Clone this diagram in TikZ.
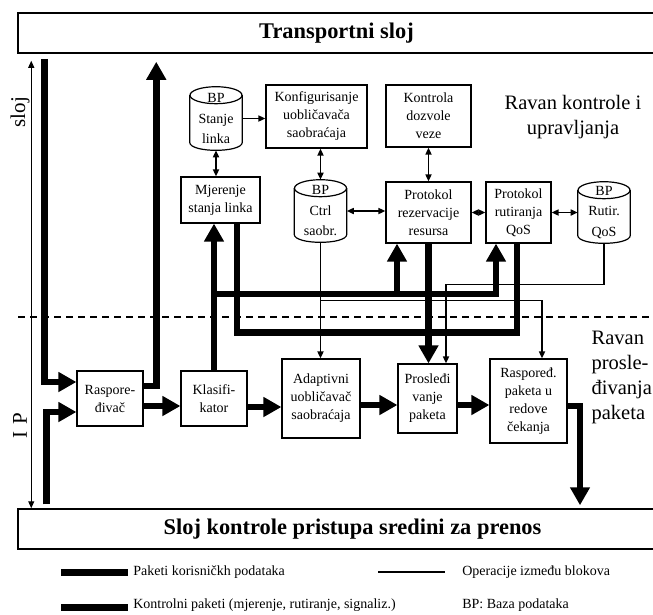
\documentclass[tikz,border=0pt]{standalone}
\usepackage{fontspec}
\setmainfont{Liberation Serif}
\usepackage{tikz}
\usetikzlibrary{positioning}
\usetikzlibrary{calc}
\usetikzlibrary{arrows.meta}

\begin{document}
\begin{tikzpicture}[x=1pt, y=-1pt, on grid, semithick,
  blok/.style={draw, line width=1.2pt, align=center, inner sep=1pt, font=\fontsize{14}{18}\selectfont},
  baza/.style={align=center, inner sep=0pt, minimum width=52pt, minimum height=60pt, font=\fontsize{14}{20.5}\selectfont},
  sloj/.style={draw, line width=1.5pt, minimum height=40pt, inner sep=0pt, font=\bfseries\fontsize{22.4}{26}\selectfont},
  ravan/.style={font=\fontsize{20.5}{25}\selectfont},
  oznaka/.style={rotate=90, font=\fontsize{21}{25}\selectfont},
  legenda/.style={anchor=west, inner sep=0pt, font=\fontsize{14}{17}\selectfont},
  debela/.style={line width=6.5pt},
  tanka/.style={line width=1.6pt},
  velika/.style={-{Triangle[length=18pt, width=19pt]}},
  mala/.style={-{Triangle[length=7pt, width=6pt]}},
  dvostruka/.style={{Triangle[length=7pt, width=6pt]}-{Triangle[length=7pt, width=6pt]}}]
    \clip (0,0) rectangle (653,614);
    \node[sloj, minimum width=637pt] (TS) at (336.5,33) {Transportni sloj};
    \node[sloj, minimum width=669pt] (MAC) at (352.5,529) {Sloj kontrole pristupa sredini za prenos};

    \node[blok, minimum width=66pt, minimum height=55pt] (RD) at (110,398.5) {Raspore-\\đivač};
    \node[blok, minimum width=66pt, minimum height=55pt] (KL) [right=104pt of RD] {Klasifi-\\kator};
    \node[blok, minimum width=78pt, minimum height=79pt] (AU) [right=107pt of KL] {Adaptivni\\uobličavač\\saobraćaja};
    \node[blok, minimum width=59pt, minimum height=69pt] (PP) [right=106.5pt of AU] {Prosleđi\\vanje\\paketa};
    \node[blok, minimum width=77pt, minimum height=84pt] (RP) [below right=2.5pt and 101pt of PP] {Raspoređ.\\paketa u\\redove\\čekanja};

    \node[blok, minimum width=79pt, minimum height=46pt] (MJ) at (220.5,200) {Mjerenje\\stanja linka};
    \node[baza, minimum height=63pt] (SL) at (216,118.5) {BP\\Stanje\\linka};
    \node[blok, minimum width=101pt, minimum height=63pt] (KU) at (316.5,116.5) {Konfigurisanje\\uobličavača\\saobraćaja};
    \node[baza, minimum height=62pt] (CT) at (320.5,211) {BP\\Ctrl\\saobr.};
    \node[blok, minimum width=85pt, minimum height=62pt] (KD) at (428.5,116) {Kontrola\\dozvole\\veze};
    \node[blok, minimum width=85pt, minimum height=61pt] (PR) [below=96.5pt of KD] {Protokol\\rezervacije\\resursa};
    \node[blok, minimum width=65pt, minimum height=61pt] (PQ) [right=90pt of PR] {Protokol\\rutiranja\\QoS};
    \node[baza, minimum height=61pt] (RQ) [right=85.5pt of PQ] {BP\\Rutir.\\QoS};

    \foreach \x in {SL,CT,RQ} {
      \draw[line width=1.2pt] ([yshift=-8.5pt]\x.north) ellipse [x radius=26pt, y radius=8.5pt];
      \draw[line width=1.2pt] ([yshift=-8.5pt]\x.north west) -- ([yshift=8pt]\x.south west)
        .. controls ([yshift=-2.7pt]\x.south west) and ([yshift=-2.7pt]\x.south east) .. ([yshift=8pt]\x.south east)
        -- ([yshift=-8.5pt]\x.north east);
    }

    \node[ravan, align=center] (RK) at (573,117) {Ravan kontrole i\\upravljanja};
    \node[ravan, align=left, anchor=west] (RPL) at (588,377) {Ravan\\prosle-\\đivanja\\paketa};
    \node[oznaka] (IS) at (20,112) {sloj};
    \node[oznaka] (IP) at (20,426) {I\hspace{7pt}P};

    \draw[line width=1.5pt, dash pattern=on 7pt off 5pt] (18,317) -- (660,317);

    \draw[line width=1pt, dvostruka] ([xshift=14pt,yshift=-7pt]TS.south west) -- ([xshift=14pt]MAC.north west);

    \draw[tanka, dvostruka] (SL.south) -- (SL.south |- MJ.north);
    \draw[tanka, mala] (SL.east) -- (SL.east -| KU.west);
    \draw[tanka, dvostruka] (CT.north |- KU.south) -- (CT.north);
    \draw[tanka, dvostruka] (KD) -- (PR);
    \draw[tanka, dvostruka] (CT.east) -- (CT.east -| PR.west);
    \draw[tanka, dvostruka] (PR) -- (PQ);
    \draw[tanka, dvostruka] (PQ.east) -- (PQ.east -| RQ.west);
    \draw[tanka, mala] (CT.south) -- (CT.south |- AU.north);
    \coordinate (cv) at ($(CT.south)!0.5!(CT.south |- AU.north)$);
    \draw[tanka, mala] (cv) -| ([xshift=13.5pt]RP.north);
    \draw[tanka, mala] (RQ.south) -- ++(0,41) -| ([xshift=18.5pt]PP.north);

    \draw[debela, velika] ([xshift=27pt,yshift=-5pt]TS.south west) |- ([yshift=16.5pt]RD.west);
    \draw[debela, velika] ([xshift=29pt,yshift=4pt]MAC.north west) |- ([yshift=-13.5pt]RD.west);
    \draw[debela, velika] ([yshift=12.5pt]RD.east) -| ([xshift=139pt,yshift=-8pt]TS.south west);
    \draw[debela, velika] ([yshift=-7.5pt]RD.east) -- ([yshift=-7.5pt]KL.west);
    \draw[debela, velika] ([yshift=-8.5pt]KL.east) -- ([yshift=-8.5pt]AU.west);
    \draw[debela, velika] ([yshift=-6.5pt]AU.east) -- ([yshift=-6.5pt]PP.west);
    \draw[debela, velika] ([yshift=-6.5pt]PP.east) -- ([yshift=-6.5pt]PP.east -| RP.west);
    \draw[debela, velika] ([yshift=-5pt]RP.east) -| ([xshift=227.5pt,yshift=3pt]MAC.north);
    \draw[debela, velika] (KL.north) -- (KL.north |- MJ.south);
    \coordinate (kv) at ($(KL.north)!0.52!(KL.north |- MJ.south)$);
    \draw[debela, velika] (kv) -| ([xshift=-31.5pt]PR.south);
    \draw[debela, velika] (kv) -| ([xshift=-22.5pt]PQ.south);
    \draw[debela] ([xshift=16.5pt]MJ.south) -- ++(0,109) -| ([xshift=-1.5pt]PQ.south);
    \draw[debela, velika] (PR.south) -- (PR.south |- PP.north);

    \node[legenda] (L1) at (133,572) {Paketi korisničkh podataka};
    \node[legenda] (L2) at (133,605.5) {Kontrolni paketi (mjerenje, rutiranje, signaliz.)};
    \node[legenda] (L3) at (462,572) {Operacije između blokova};
    \node[legenda] (L4) at (462,605.5) {BP: Baza podataka};
    \draw[line width=7pt] ([xshift=-72pt]L1.west) -- ([xshift=-5pt]L1.west);
    \draw[line width=7pt] ([xshift=-72pt,yshift=-2pt]L2.west) -- ([xshift=-5pt,yshift=-2pt]L2.west);
    \draw[line width=2.2pt] ([xshift=-84pt]L3.west) -- ([xshift=-17pt]L3.west);
\end{tikzpicture}
\end{document}
